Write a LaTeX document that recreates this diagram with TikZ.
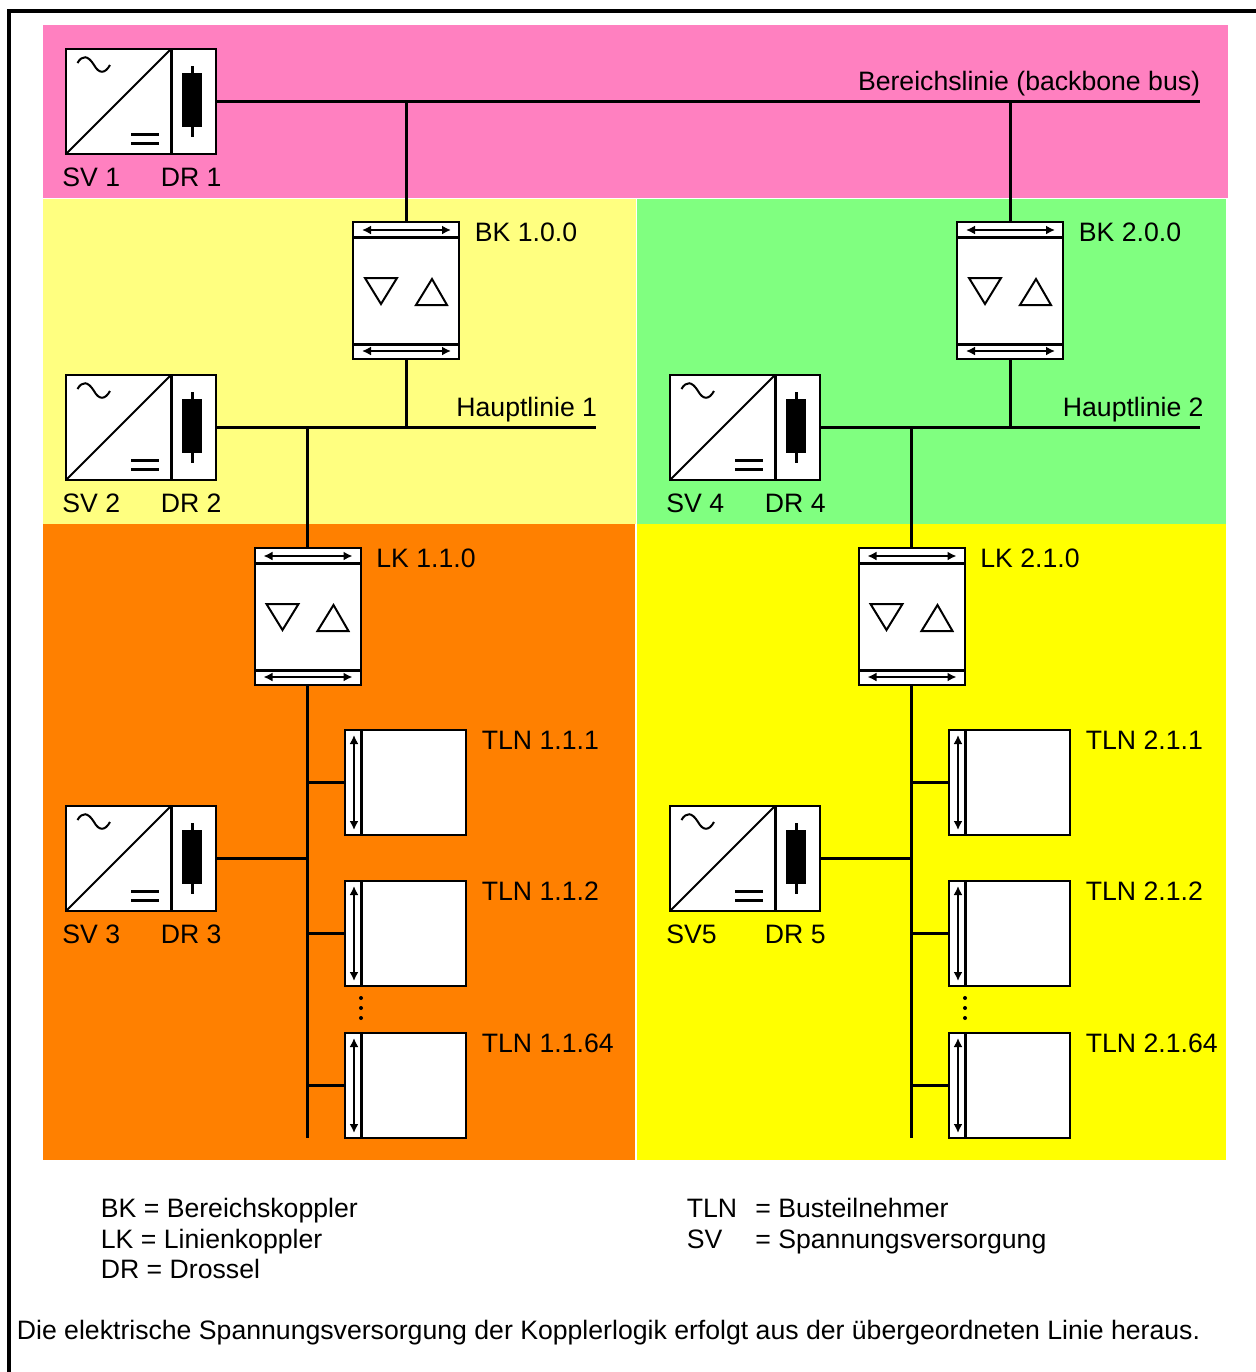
\documentclass[tikz,border=0pt]{standalone}
\usepackage{fontspec}
\setmainfont{Liberation Sans}
\usetikzlibrary{arrows.meta}
\definecolor{zonepink}{RGB}{255, 128, 192}
\definecolor{zonepale}{RGB}{255, 255, 128}
\definecolor{zonegreen}{RGB}{128, 255, 128}
\definecolor{zoneorange}{RGB}{255, 128, 0}
\definecolor{zoneyellow}{RGB}{255, 255, 0}

\begin{document}
\begin{tikzpicture}[
    x=0.5pt,
    y=-0.5pt,
    >={Latex[length=4.5pt,width=4.5pt]},
    % node styles
    cell/.style = {
      draw=black,
      fill=white,
      line width=1pt,
      inner sep=0pt,
      outer sep=0pt,
      anchor=north west
    },
    lbl/.style = {
      inner sep=0pt,
      anchor=base west,
      font=\fontsize{13.32}{16}\selectfont
    },
    % line styles
    linie/.style = {line width=1.5pt, draw=black},
    sym/.style = {line width=1pt, draw=black, line join=miter},
    twoarr/.style = {<->, line width=1.2pt, draw=black},
    % supply with choke
    pics/supply/.style 2 args = {code = {
      \node[cell, minimum width=52.5pt, minimum height=52.5pt] (-sv) at (0,0) {};
      \node[cell, minimum width=22.5pt, minimum height=52.5pt] (-dr) at (105,0) {};
      \draw[sym] (-sv.south west) -- (-sv.north east);
      \draw[linie] (-dr.north west) -- (-dr.south west);
      \draw[sym] (11.5,14) .. controls (16,6) and (22,6) .. (28,16) .. controls (33,25) and (39,25) .. (44,16);
      \draw[linie] (65,85) -- (93,85);
      \draw[linie] (65,94) -- (93,94);
      \fill (116,24) rectangle (136,78);
      \draw[linie] (126,17) -- (126,88);
      \node[lbl] (-svlabel) at (-4,137) {#1};
      \node[lbl] (-drlabel) at (94.5,137) {#2};
    }},
    % area or line coupler
    pics/coupler/.style = {code = {
      \node[cell, minimum width=53pt, minimum height=68.5pt] (-body) at (0,0) {};
      \node[cell, minimum width=53pt, minimum height=7.5pt] (-head) at (0,0) {};
      \node[cell, minimum width=53pt, minimum height=7.5pt] (-foot) at (0,122) {};
      \draw[linie] (-head.south west) -- (-head.south east);
      \draw[linie] (-foot.north west) -- (-foot.north east);
      \draw[twoarr] (9,8) -- (98,8);
      \draw[twoarr] (9,129) -- (98,129);
      \draw[sym] (12,56) -- (44,56) -- (28,82) -- cycle;
      \draw[sym] (63,83) -- (94,83) -- (79,57) -- cycle;
      \node[lbl] (-label) at (121.5,19) {#1};
    }},
    % bus device
    pics/device/.style = {code = {
      \node[cell, minimum width=8pt, minimum height=52.5pt] (-bus) at (0,0) {};
      \node[cell, minimum width=52.5pt, minimum height=52.5pt] (-body) at (16,0) {};
      \draw[linie] (-body.north west) -- (-body.south west);
      \draw[twoarr] (9,5) -- (9,100);
      \node[lbl] (-label) at (136.5,19) {#1};
    }}
  ]
  \useasboundingbox (0,0) rectangle (1256,1372);

  % --- Zones
  \fill[zonepink] (43,25) rectangle (1228,198);
  \fill[zonepale] (43,199) rectangle (636,524);
  \fill[zonegreen] (637,199) rectangle (1226,524);
  \fill[zoneorange] (43,524) rectangle (635,1160);
  \fill[zoneyellow] (637,524) rectangle (1226,1160);
  \draw[line width=2pt] (9,1372) |- (1256,11);

  % --- Nodes
  \pic (sv1) at (66,49) {supply={SV 1}{DR 1}};
  \pic (sv2) at (66,375) {supply={SV 2}{DR 2}};
  \pic (sv4) at (670,375) {supply={SV 4}{DR 4}};
  \pic (sv3) at (66,806) {supply={SV 3}{DR 3}};
  \pic (sv5) at (670,806) {supply={SV5}{DR 5}};

  \pic (bk1) at (353,222) {coupler={BK 1.0.0}};
  \pic (bk2) at (957,222) {coupler={BK 2.0.0}};
  \pic (lk1) at (254.5,548) {coupler={LK 1.1.0}};
  \pic (lk2) at (858.5,548) {coupler={LK 2.1.0}};

  \pic (tln11) at (345,730) {device={TLN 1.1.1}};
  \pic (tln12) at (345,881) {device={TLN 1.1.2}};
  \pic (tln13) at (345,1033) {device={TLN 1.1.64}};
  \pic (tln21) at (949,730) {device={TLN 2.1.1}};
  \pic (tln22) at (949,881) {device={TLN 2.1.2}};
  \pic (tln23) at (949,1033) {device={TLN 2.1.64}};

  \coordinate (busEnd) at (1200,101.5);
  \coordinate (haupt1End) at (596,427.5);
  \coordinate (haupt2End) at (1200,427.5);
  \coordinate (linie1End) at (307.5,1138);
  \coordinate (linie2End) at (911.5,1138);

  \node[lbl, anchor=base east] (buslabel) at (1200.5,90) {Bereichslinie (backbone bus)};
  \node[lbl, anchor=base east] (haupt1label) at (597.5,416) {Hauptlinie 1};
  \node[lbl, anchor=base east] (haupt2label) at (1204,416) {Hauptlinie 2};

  \fill (361,998) circle (1pt);
  \fill (361,1008) circle (1pt);
  \fill (361,1018) circle (1pt);
  \fill (965,998) circle (1pt);
  \fill (965,1008) circle (1pt);
  \fill (965,1018) circle (1pt);

  % --- Arrows
  \draw[linie] (sv1-dr.east) -- (busEnd);
  \draw[linie] (bk1-head.north) -- (bk1-head.north |- busEnd);
  \draw[linie] (bk2-head.north) -- (bk2-head.north |- busEnd);

  \draw[linie] (sv2-dr.east) -- (haupt1End);
  \draw[linie] (bk1-foot.south) -- (bk1-foot.south |- haupt1End);
  \draw[linie] (lk1-head.north) -- (lk1-head.north |- haupt1End);
  \draw[linie] (sv4-dr.east) -- (haupt2End);
  \draw[linie] (bk2-foot.south) -- (bk2-foot.south |- haupt2End);
  \draw[linie] (lk2-head.north) -- (lk2-head.north |- haupt2End);

  \draw[linie] (lk1-foot.south) -- (linie1End);
  \draw[linie] (lk2-foot.south) -- (linie2End);
  \draw[linie] (sv3-dr.east) -- (sv3-dr.east -| linie1End);
  \draw[linie] (sv5-dr.east) -- (sv5-dr.east -| linie2End);
  \draw[linie] (tln11-bus.west) -- (tln11-bus.west -| linie1End);
  \draw[linie] (tln12-bus.west) -- (tln12-bus.west -| linie1End);
  \draw[linie] (tln13-bus.west) -- (tln13-bus.west -| linie1End);
  \draw[linie] (tln21-bus.west) -- (tln21-bus.west -| linie2End);
  \draw[linie] (tln22-bus.west) -- (tln22-bus.west -| linie2End);
  \draw[linie] (tln23-bus.west) -- (tln23-bus.west -| linie2End);

  % --- Legend
  \node[lbl] (bk) at (100.5,1217) {BK = Bereichskoppler};
  \node[lbl] (lk) at (100.5,1248) {LK = Linienkoppler};
  \node[lbl] (dr) at (100.5,1278) {DR = Drossel};
  \node[lbl] (tln) at (686.5,1217) {TLN};
  \node[lbl] (tlntext) at (755,1217) {= Busteilnehmer};
  \node[lbl] (sv) at (686.5,1248) {SV};
  \node[lbl] (svtext) at (755,1248) {= Spannungsversorgung};
  \node[lbl] (note) at (16.5,1339) {Die elektrische Spannungsversorgung der Kopplerlogik erfolgt aus der übergeordneten Linie heraus.};

\end{tikzpicture}
\end{document}
